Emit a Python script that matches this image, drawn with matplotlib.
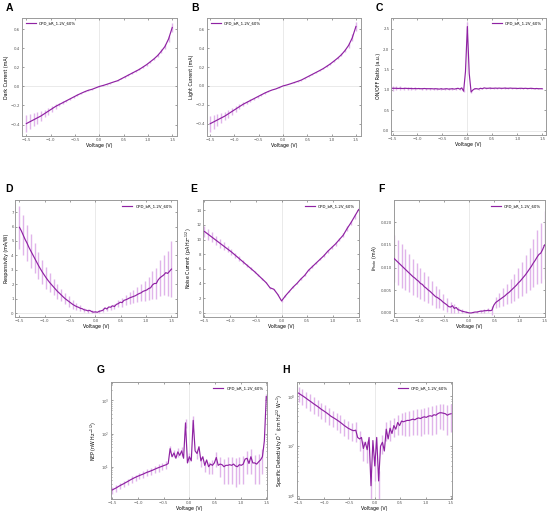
import numpy as np
import matplotlib
matplotlib.use("Agg")
import matplotlib.pyplot as plt

# voltage sweep: coarse grid (error bars) and fine grid (jagged curves)
v_coarse = np.round(np.arange(41) * 0.075 - 1.5, 4)
v_fine = np.round(np.arange(81) * 0.0375 - 1.5, 4)

label = "OPD_bR_1.2V_60%"

# A: dark current (mA), coarse grid
dark_current = [-0.39, -0.37, -0.35, -0.33, -0.31, -0.285, -0.26, -0.235, -0.21, -0.19,
                -0.17, -0.15, -0.13, -0.11, -0.09, -0.072, -0.055, -0.04, -0.03, -0.015,
                0.0, 0.01, 0.022, 0.035, 0.048, 0.06, 0.08, 0.1, 0.12, 0.14,
                0.16, 0.18, 0.205, 0.23, 0.26, 0.29, 0.325, 0.37, 0.42, 0.5, 0.62]
dark_err = [0.09, 0.08, 0.07, 0.06, 0.05, 0.04, 0.035, 0.03, 0.025, 0.02,
            0.015, 0.012, 0.01, 0.008, 0.007, 0.006, 0.005, 0.004, 0.004, 0.003,
            0.003, 0.003, 0.003, 0.004, 0.004, 0.005, 0.005, 0.006, 0.006, 0.007,
            0.008, 0.009, 0.01, 0.011, 0.012, 0.014, 0.016, 0.02, 0.025, 0.035, 0.05]

# B: light current (mA), coarse grid
light_current = [-0.40, -0.38, -0.36, -0.34, -0.32, -0.295, -0.27, -0.245, -0.22, -0.195,
                 -0.175, -0.155, -0.135, -0.115, -0.095, -0.075, -0.058, -0.043, -0.032, -0.016,
                 0.0, 0.01, 0.022, 0.035, 0.048, 0.062, 0.082, 0.102, 0.122, 0.142,
                 0.162, 0.183, 0.208, 0.234, 0.264, 0.295, 0.33, 0.375, 0.43, 0.51, 0.63]
light_err = [0.085, 0.075, 0.065, 0.055, 0.045, 0.04, 0.035, 0.03, 0.025, 0.02,
             0.015, 0.012, 0.01, 0.008, 0.007, 0.006, 0.005, 0.004, 0.004, 0.003,
             0.003, 0.003, 0.003, 0.004, 0.004, 0.005, 0.005, 0.006, 0.006, 0.007,
             0.008, 0.009, 0.01, 0.011, 0.012, 0.014, 0.016, 0.02, 0.025, 0.035, 0.05]

# C: on/off ratio, fine grid
onoff = [1.04, 1.04, 1.04, 1.035, 1.04, 1.035, 1.035, 1.04, 1.035, 1.035,
         1.035, 1.03, 1.035, 1.03, 1.035, 1.03, 1.03, 1.035, 1.03, 1.03,
         1.03, 1.03, 1.025, 1.03, 1.025, 1.02, 1.03, 1.02, 1.025, 1.03,
         1.02, 1.025, 1.03, 1.02, 1.03, 1.04, 1.02, 1.05, 0.97, 1.45,
         2.55,
         1.4, 0.95, 1.0, 1.03, 1.03, 1.02, 1.04, 1.03, 1.05, 1.04,
         1.04, 1.045, 1.04, 1.04, 1.045, 1.04, 1.045, 1.04, 1.04, 1.045,
         1.04, 1.04, 1.045, 1.04, 1.04, 1.04, 1.035, 1.04, 1.04, 1.035,
         1.04, 1.035, 1.035, 1.04, 1.035, 1.03, 1.035, 1.03, 1.03, 1.03]
onoff_err = [0.06, 0.05, 0.045, 0.04, 0.035, 0.03, 0.025, 0.02, 0.02, 0.02,
             0.02, 0.02, 0.02, 0.02, 0.02, 0.02, 0.02, 0.02, 0.02, 0.03,
             0.12, 0.03, 0.015, 0.015, 0.015, 0.015, 0.015, 0.015, 0.015, 0.015,
             0.015, 0.015, 0.015, 0.015, 0.015, 0.015, 0.015, 0.015, 0.015, 0.015, 0.015]

# D: responsivity (mA/W), fine grid
responsivity = [5.95, 5.7, 5.4, 5.1, 4.85, 4.55, 4.3, 4.05, 3.8, 3.55,
                3.3, 3.07, 2.85, 2.65, 2.45, 2.27, 2.1, 1.95, 1.8, 1.65,
                1.5, 1.38, 1.25, 1.12, 1.0, 0.9, 0.8, 0.7, 0.6, 0.52,
                0.45, 0.4, 0.33, 0.3, 0.22, 0.2, 0.15, 0.18, 0.1, 0.06,
                0.08,
                0.05, 0.12, 0.15, 0.2, 0.35, 0.28, 0.42, 0.4, 0.5, 0.45,
                0.6, 0.65, 0.75, 0.72, 0.88, 0.92, 0.98, 1.05, 1.1, 1.15,
                1.2, 1.28, 1.35, 1.4, 1.5, 1.55, 1.6, 1.7, 1.75, 1.95,
                2.05, 2.05, 2.3, 2.45, 2.55, 2.65, 2.8, 2.75, 2.9, 3.05]
resp_err = [1.5, 1.4, 1.25, 1.15, 1.05, 0.95, 0.85, 0.75, 0.65, 0.58,
            0.5, 0.45, 0.4, 0.35, 0.3, 0.25, 0.2, 0.15, 0.12, 0.1,
            0.08, 0.1, 0.12, 0.15, 0.18, 0.2, 0.25, 0.3, 0.35, 0.4,
            0.45, 0.5, 0.6, 0.7, 0.8, 0.95, 1.05, 1.25, 1.4, 1.55, 1.95]

# E: noise current (pA Hz^-1/2), coarse grid
noise = [11.1, 10.7, 10.3, 9.9, 9.5, 9.1, 8.7, 8.3, 7.85, 7.4,
         6.95, 6.5, 6.05, 5.6, 5.1, 4.6, 4.1, 3.4, 3.2, 2.5,
         1.6, 2.3, 2.9, 3.5, 4.0, 4.6, 5.1, 5.8, 6.3, 6.8,
         7.3, 7.8, 8.4, 8.9, 9.4, 10.0, 10.6, 11.5, 12.3, 13.2, 14.1]
noise_err = [0.8, 0.75, 0.7, 0.65, 0.6, 0.5, 0.45, 0.4, 0.35, 0.3,
             0.25, 0.2, 0.2, 0.15, 0.15, 0.15, 0.1, 0.1, 0.1, 0.1,
             0.1, 0.1, 0.1, 0.1, 0.1, 0.1, 0.15, 0.15, 0.15, 0.15,
             0.15, 0.2, 0.2, 0.2, 0.25, 0.25, 0.3, 0.3, 0.3, 0.35, 0.35]

# F: photocurrent (mA), fine grid
photo = [0.0120, 0.0116, 0.0112, 0.0108, 0.0104, 0.0100, 0.0096, 0.0092, 0.0088, 0.0084,
         0.0080, 0.0077, 0.0073, 0.0070, 0.0065, 0.0063, 0.0058, 0.0055, 0.0051, 0.0048,
         0.0044, 0.0040, 0.0036, 0.0034, 0.0031, 0.0028, 0.0024, 0.0021, 0.0018, 0.0014,
         0.0013, 0.0016, 0.0010, 0.0012, 0.0007, 0.0006, 0.0004, 0.0003, 0.0002, 0.0001,
         0.0000,
         0.0000, 0.0001, 0.0002, 0.0002, 0.0003, 0.0004, 0.0004, 0.0005, 0.0005, 0.0006,
         0.0005, 0.0006, 0.0017, 0.0023, 0.0026, 0.0029, 0.0032, 0.0035, 0.0038, 0.0042,
         0.0045, 0.0049, 0.0053, 0.0057, 0.0061, 0.0066, 0.0070, 0.0075, 0.0080, 0.0085,
         0.0091, 0.0097, 0.0103, 0.0110, 0.0116, 0.0123, 0.0129, 0.0132, 0.0140, 0.0150]
photo_err = [0.0052, 0.005, 0.0048, 0.0045, 0.0042, 0.004, 0.0037, 0.0035, 0.0032, 0.003,
             0.0027, 0.0024, 0.0021, 0.0018, 0.0015, 0.0012, 0.0009, 0.0006, 0.0004, 0.0002,
             0.0001, 0.0002, 0.0003, 0.0003, 0.0004, 0.0004, 0.001, 0.0013, 0.0016, 0.0019,
             0.0022, 0.0026, 0.003, 0.0033, 0.0037, 0.0042, 0.0047, 0.0053, 0.006, 0.0067, 0.0075]

# G: NEP (nW Hz^-1/2), fine grid
nep = [2.0, 2.15, 2.3, 2.5, 2.7, 2.9, 3.1, 3.35, 3.6, 3.9,
       4.2, 4.5, 4.8, 5.1, 5.4, 5.7, 6.0, 6.4, 6.8, 7.1,
       7.5, 7.9, 8.4, 8.9, 9.4, 9.9, 10.4, 11.0, 11.5, 12.5,
       35.0, 20.0, 26.0, 18.0, 28.0, 22.0, 30.0, 18.0, 210.0, 13.0,
       20.0,
       15.0, 250.0, 30.0, 25.0, 40.0, 15.0, 20.0, 11.0, 16.0, 10.0,
       12.0, 11.0, 13.0, 19.0, 11.0, 12.0, 11.5, 10.0, 11.0, 11.0,
       11.5, 11.0, 12.0, 10.5, 10.0, 11.5, 11.0, 12.0, 17.0, 18.0,
       12.5, 20.0, 13.0, 13.0, 12.0, 14.0, 16.0, 20.0, 60.0, 1300.0]
nep_err = [0.5, 0.55, 0.6, 0.7, 0.8, 0.9, 1.0, 1.2, 1.3, 1.5,
           1.7, 2.0, 2.3, 2.6, 3.0, 8.0, 7.0, 8.0, 9.0, 60.0,
           6.0, 80.0, 8.0, 5.0, 4.0, 4.0, 5.0, 9.0, 7.0, 7.0,
           8.0, 8.0, 8.0, 8.5, 9.0, 12.0, 14.0, 10.0, 11.0, 14.0, 300.0]

# H: specific detectivity (Jones), fine grid
detectivity = [1.17e8, 1.10e8, 1.04e8, 9.8e7, 9.2e7, 8.6e7, 8.1e7, 7.6e7, 7.1e7, 6.7e7,
               6.3e7, 5.9e7, 5.5e7, 5.2e7, 4.9e7, 4.6e7, 4.3e7, 4.0e7, 3.8e7, 3.6e7,
               3.4e7, 3.2e7, 3.0e7, 2.8e7, 2.6e7, 2.45e7, 2.3e7, 2.2e7, 2.1e7, 2.05e7,
               2.1e7, 1.5e7, 1.4e7, 1.5e7, 9.0e6, 1.2e7, 8.5e6, 1.5e7, 1.6e6, 1.3e7,
               4.0e6,
               1.5e7, 2.0e6, 1.0e7, 1.2e7, 8.0e6, 2.2e7, 1.4e7, 2.3e7, 1.8e7, 2.6e7,
               2.2e7, 3.0e7, 2.6e7, 3.2e7, 3.1e7, 3.2e7, 3.3e7, 3.3e7, 3.4e7, 3.5e7,
               3.4e7, 3.6e7, 3.7e7, 3.6e7, 3.8e7, 3.9e7, 3.8e7, 4.0e7, 4.1e7, 4.0e7,
               4.3e7, 4.2e7, 4.5e7, 4.7e7, 4.7e7, 4.6e7, 4.5e7, 4.2e7, 4.4e7, 4.5e7]
det_err = [4.0e7, 3.6e7, 3.2e7, 2.9e7, 2.6e7, 2.3e7, 2.0e7, 1.8e7, 1.6e7, 1.4e7,
           1.3e7, 1.15e7, 1.0e7, 0.9e7, 0.85e7, 0.9e7, 0.6e7, 0.4e7, 0.4e7, 1.0e6,
           2.0e6, 1.2e6, 0.5e7, 0.9e7, 1.0e7, 1.1e7, 1.3e7, 1.5e7, 1.6e7, 1.7e7,
           1.8e7, 1.9e7, 2.0e7, 2.1e7, 2.2e7, 2.3e7, 2.4e7, 2.5e7, 2.5e7, 2.5e7, 2.6e7]

LINE = "#8f22a3"
ERR = "#e0b4ea"
GRID = "#e2e2e2"


def draw_panel(fig, rect, letter, letter_xy, x, y, err, ylabel, ylim, xlim,
               legend_loc="upper right", log=False, yticks=None):
    ax = fig.add_axes(rect)
    x = np.asarray(x)
    y = np.asarray(y)
    # error bars sit on the coarse grid
    step = 1 if len(x) == len(err) else 2
    ax.errorbar(x[::step], y[::step], yerr=err, fmt="none", ecolor=ERR,
                elinewidth=1.0, capsize=0, zorder=2)
    ax.plot(x, y, color=LINE, lw=0.85, label=label, zorder=3)
    ax.axvline(0, color=GRID, lw=0.5, zorder=1)
    if log:
        ax.set_yscale("log")
    else:
        ax.axhline(0, color=GRID, lw=0.5, zorder=1)
    ax.set_xlim(*xlim)
    ax.set_ylim(*ylim)
    ax.set_xticks([-1.5, -1.0, -0.5, 0.0, 0.5, 1.0, 1.5])
    if yticks is not None:
        ax.set_yticks(yticks)
    ax.set_xlabel("Voltage (V)", fontsize=3.4, labelpad=1)
    ax.set_ylabel(ylabel, fontsize=3.4, labelpad=1.5)
    ax.tick_params(axis="both", which="both", direction="in", top=True, right=True,
                   labelsize=2.8, length=1.5, width=0.4, pad=1.2, colors="#555555")
    ax.tick_params(which="minor", length=0.8)
    for s in ax.spines.values():
        s.set_color("#9a9a9a")
        s.set_linewidth(0.7)
    ax.legend(loc=legend_loc, fontsize=2.8, frameon=False, handlelength=2.6,
              borderaxespad=0.6)
    # panel letter, placed in pixel terms of the 550x513 figure
    fig.text(letter_xy[0] / 550, 1 - letter_xy[1] / 513, letter, fontsize=7.5,
             fontweight="bold", family="Liberation Sans", ha="left", va="baseline")
    return ax


fig = plt.figure(figsize=(5.5, 5.13), dpi=100)

draw_panel(fig, [0.040, 0.735, 0.282, 0.230], "A", (6, 11), v_coarse, dark_current, dark_err,
           "Dark Current (mA)", (-0.52, 0.72), (-1.59, 1.6), "upper left",
           yticks=[-0.4, -0.2, 0.0, 0.2, 0.4, 0.6])
draw_panel(fig, [0.376, 0.735, 0.280, 0.230], "B", (191, 11), v_coarse, light_current, light_err,
           "Light Current (mA)", (-0.53, 0.72), (-1.57, 1.6), "upper left",
           yticks=[-0.4, -0.2, 0.0, 0.2, 0.4, 0.6])
draw_panel(fig, [0.711, 0.737, 0.282, 0.228], "C", (376, 11), v_fine, onoff, onoff_err,
           "ON/OFF Ratio (a.u.)", (-0.1, 2.76), (-1.53, 1.58))
draw_panel(fig, [0.028, 0.382, 0.293, 0.228], "D", (5, 192), v_fine, responsivity, resp_err,
           "Responsivity (mA/W)", (-0.28, 7.84), (-1.58, 1.6))
draw_panel(fig, [0.369, 0.382, 0.284, 0.228], "E", (190, 192), v_coarse, noise, noise_err,
           "Noise Current (pA Hz$^{-1/2}$)", (-0.6, 15.4), (-1.53, 1.51),
           yticks=[0, 2, 4, 6, 8, 10, 12, 14])
draw_panel(fig, [0.716, 0.382, 0.275, 0.228], "F", (378, 192), v_fine, photo, photo_err,
           "$I_{Photo}$ (mA)", (-0.0009, 0.0249), (-1.507, 1.51),
           yticks=[0.0, 0.005, 0.010, 0.015, 0.020])
draw_panel(fig, [0.202, 0.027, 0.284, 0.228], "G", (97, 373), v_fine, nep, nep_err,
           "NEP (nW Hz$^{-1/2}$)", (1.05, 3550), (-1.526, 1.52), log=True)
draw_panel(fig, [0.540, 0.027, 0.282, 0.228], "H", (282, 373), v_fine, detectivity, det_err,
           "Specific Detectivity $D^*$ (cm Hz$^{1/2}$ W$^{-1}$)", (8.6e5, 1.94e8),
           (-1.53, 1.52), log=True)

fig.savefig("out.png", dpi=100)
